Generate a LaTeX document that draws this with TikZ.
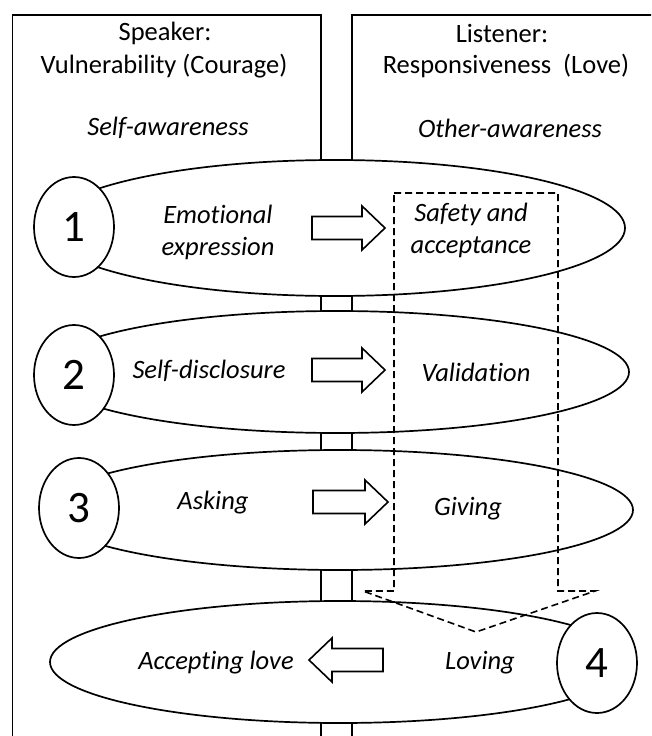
\documentclass[tikz,border=0pt]{standalone}
\usepackage{fontspec}
\setmainfont{Carlito}[Ligatures=NoCommon]
\usetikzlibrary{shapes.geometric}
\begin{document}
\begin{tikzpicture}[x=1pt,y=-1pt, line width=1.7pt,
  lbl/.style={font=\fontsize{26.5}{32}\selectfont\itshape, inner sep=0, align=center},
  head/.style={font=\fontsize{26.5}{32}\selectfont, inner sep=0, align=center},
  colbox/.style={draw, anchor=north west, inner sep=0, line width=1.6pt},
  stage/.style={ellipse, draw, fill=white, inner sep=0},
  num/.style={ellipse, draw, fill=white, minimum width=80pt, minimum height=100pt, inner sep=0, font=\fontsize{45}{50}\selectfont},
  barrow/.style={draw, fill=white, line width=1.6pt, line join=miter},
  dsh/.style={dash pattern=on 7pt off 4pt, line width=1.6pt}
]
\useasboundingbox (0,0) rectangle (651,736);
\clip (0,0) rectangle (651,736);
% columns
\node[colbox, minimum width=308.5pt, minimum height=760pt] (spk) at (11.5,14) {};
\node[colbox, minimum width=330pt, minimum height=760pt] (lis) at (351,14) {};
% column headings
\node[head] (spk1) at (165,33) {Speaker:};
\node[head] (spk2) at (164,66) {Vulnerability (Courage)};
\node[lbl] (selfaw) at (168,128) {Self-awareness};
\node[head] (lis1) at (502,33) {Listener:};
\node[head] (lis2) at (506,66) {Responsiveness\ \ (Love)};
\node[lbl] (othaw) at (510,128) {Other-awareness};
% stage ellipses
\node[stage, minimum width=580pt, minimum height=136pt] (e1) at (335,228) {};
\node[stage, minimum width=584pt, minimum height=122pt] (e2) at (337,372) {};
\node[stage, minimum width=586pt, minimum height=120pt] (e3) at (340,510) {};
\node[stage, minimum width=580pt, minimum height=122pt] (e4) at (340,662) {};
% numbers
\node[num] (n1) at (74,227) {1};
\node[num] (n2) at (74,375) {2};
\node[num] (n3) at (79,508) {3};
\node[num] (n4) at (597,663) {4};
% block arrows
\draw[barrow] (312,216.5) -- (362,216.5) -- (362,206) -- (385,228) -- (362,250) -- (362,239.5) -- (312,239.5) -- cycle;
\draw[barrow] (312,358.5) -- (362,358.5) -- (362,348) -- (385,370) -- (362,392) -- (362,381.5) -- (312,381.5) -- cycle;
\draw[barrow] (313,490.5) -- (365,490.5) -- (365,480) -- (388,502) -- (365,524) -- (365,513.5) -- (313,513.5) -- cycle;
\draw[barrow] (383,648.5) -- (332,648.5) -- (332,638) -- (309,660) -- (332,682) -- (332,671.5) -- (383,671.5) -- cycle;
% dashed arrow
\draw[dsh] (394,193) -- (558,193) -- (558,591) -- (595,591) -- (476,632) -- (363,591) -- (394,591) -- cycle;
% labels
\node[lbl] (t1a) at (218,232) {Emotional\\expression};
\node[lbl] (t1b) at (471,230) {Safety and\\acceptance};
\node[lbl] (t2a) at (209,371) {Self-disclosure};
\node[lbl] (t2b) at (476,372) {Validation};
\node[lbl] (t3a) at (213,503) {Asking};
\node[lbl] (t3b) at (468,509) {Giving};
\node[lbl] (t4a) at (216,663) {Accepting love};
\node[lbl] (t4b) at (480,663) {Loving};
\end{tikzpicture}
\end{document}
